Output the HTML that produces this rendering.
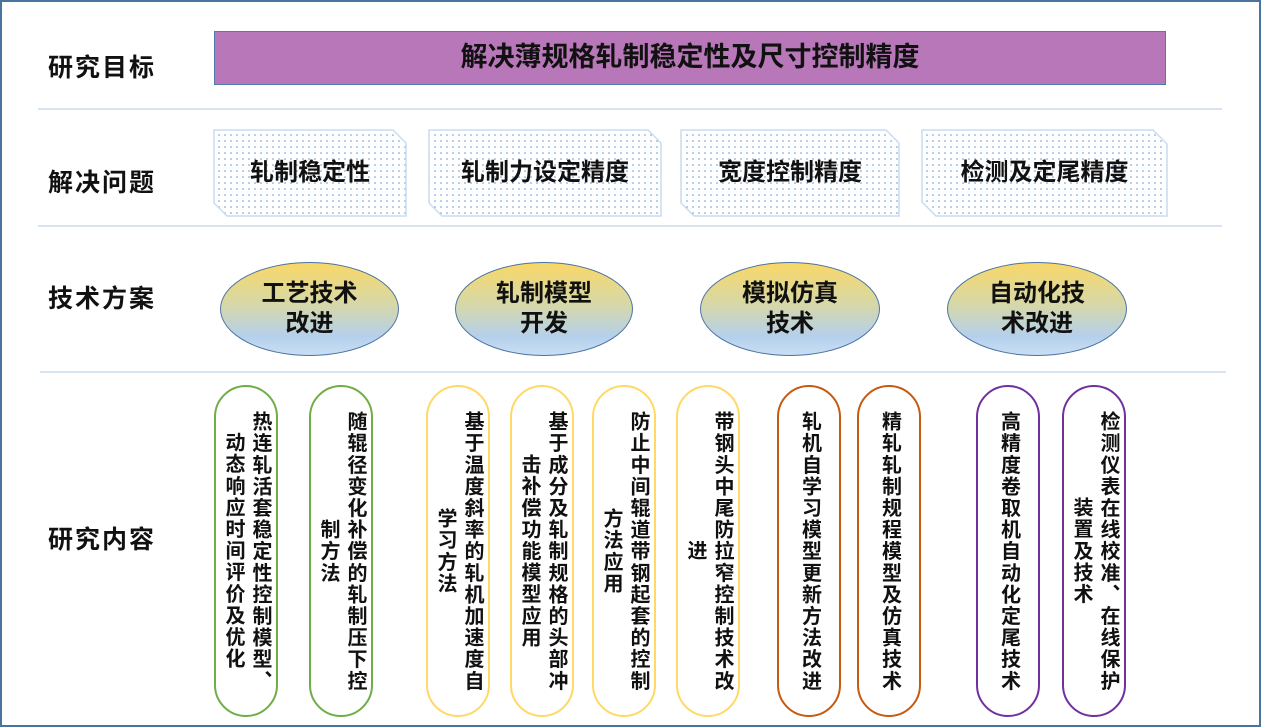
<!DOCTYPE html>
<html><head><meta charset="utf-8"><style>
*{margin:0;padding:0;box-sizing:border-box}
body{width:1261px;height:727px;overflow:hidden;background:#fff;font-family:"Liberation Sans","Noto Sans CJK SC",sans-serif;color:#111;position:relative}
.frame{position:absolute;left:0;top:0;width:1261px;height:727px;border:2px solid #4a74a0}
.lab{position:absolute;left:48px;font-size:25px;font-weight:bold;letter-spacing:2px;line-height:30px}
.hl{position:absolute;height:2px;background:#d6e4f2}
.goal{position:absolute;left:214px;top:31px;width:952px;height:54px;background:#b877b8;border:1.5px solid #4f7cac;font-size:27px;font-weight:bold;text-align:center;line-height:51px}
.ptxt{position:absolute;font-size:24px;font-weight:bold;text-align:center;line-height:30px}
.ell{position:absolute;border-radius:50%;border:1.5px solid #4a72a0;background:linear-gradient(#f9d767 0%,#d6d8a8 45%,#b5d0ec 80%,#c9def3 100%);display:flex;align-items:center;justify-content:center;text-align:center;font-size:24px;font-weight:bold;line-height:30px}
.pill{position:absolute;top:385px;height:332px;width:64px;border:2.5px solid;border-radius:32px;display:flex;align-items:center;justify-content:center}
.pill div{writing-mode:vertical-rl;height:292px;font-size:20px;font-weight:bold;line-height:27px;text-align:center;letter-spacing:1.6px;white-space:normal}
.g{border-color:#70ad47}.y{border-color:#ffd966}.o{border-color:#c55a11}.p{border-color:#7030a0}
</style></head><body>
<div class="frame"></div>
<div class="lab" style="top:53px">研究目标</div>
<div class="lab" style="top:168px">解决问题</div>
<div class="lab" style="top:284px">技术方案</div>
<div class="lab" style="top:525px">研究内容</div>
<div class="hl" style="left:38px;top:108px;width:1184px"></div>
<div class="hl" style="left:38px;top:225px;width:1184px"></div>
<div class="hl" style="left:40px;top:371px;width:1186px"></div>
<div class="goal">解决薄规格轧制稳定性及尺寸控制精度</div>
<svg width="1261" height="727" style="position:absolute;left:0;top:0">
<defs><pattern id="d" width="6" height="6" patternUnits="userSpaceOnUse"><rect width="6" height="6" fill="#fff"/><circle cx="3" cy="3" r="0.8" fill="#5b9bd5"/></pattern></defs>
<g fill="url(#d)" stroke="#c9dcf0" stroke-width="1.5">
<polygon points="214,130 393,130 406,143 406,216 227,216 214,203"/>
<polygon points="429,130 648,130 661,143 661,216 442,216 429,203"/>
<polygon points="681,130 886,130 899,143 899,216 694,216 681,203"/>
<polygon points="922,130 1153,130 1167,144 1167,216 936,216 922,202"/>
</g></svg>
<div class="ptxt" style="left:214px;top:158px;width:192px">轧制稳定性</div>
<div class="ptxt" style="left:429px;top:158px;width:232px">轧制力设定精度</div>
<div class="ptxt" style="left:681px;top:158px;width:218px">宽度控制精度</div>
<div class="ptxt" style="left:922px;top:158px;width:245px">检测及定尾精度</div>
<div class="ell" style="left:220px;top:262px;width:179px;height:94px">工艺技术<br>改进</div>
<div class="ell" style="left:455px;top:262px;width:178px;height:94px">轧制模型<br>开发</div>
<div class="ell" style="left:700px;top:262px;width:180px;height:94px">模拟仿真<br>技术</div>
<div class="ell" style="left:947px;top:262px;width:180px;height:94px">自动化技<br>术改进</div>
<div class="pill g" style="left:214px"><div>热连轧活套稳定性控制模型、动态响应时间评价及优化</div></div>
<div class="pill g" style="left:309px"><div>随辊径变化补偿的轧制压下控制方法</div></div>
<div class="pill y" style="left:426px"><div>基于温度斜率的轧机加速度自学习方法</div></div>
<div class="pill y" style="left:510px"><div>基于成分及轧制规格的头部冲击补偿功能模型应用</div></div>
<div class="pill y" style="left:592px"><div>防止中间辊道带钢起套的控制方法应用</div></div>
<div class="pill y" style="left:676px"><div>带钢头中尾防拉窄控制技术改进</div></div>
<div class="pill o" style="left:777px"><div>轧机自学习模型更新方法改进</div></div>
<div class="pill o" style="left:857px"><div>精轧轧制规程模型及仿真技术</div></div>
<div class="pill p" style="left:976px"><div>高精度卷取机自动化定尾技术</div></div>
<div class="pill p" style="left:1062px"><div>检测仪表在线校准、在线保护装置及技术</div></div>
</body></html>
